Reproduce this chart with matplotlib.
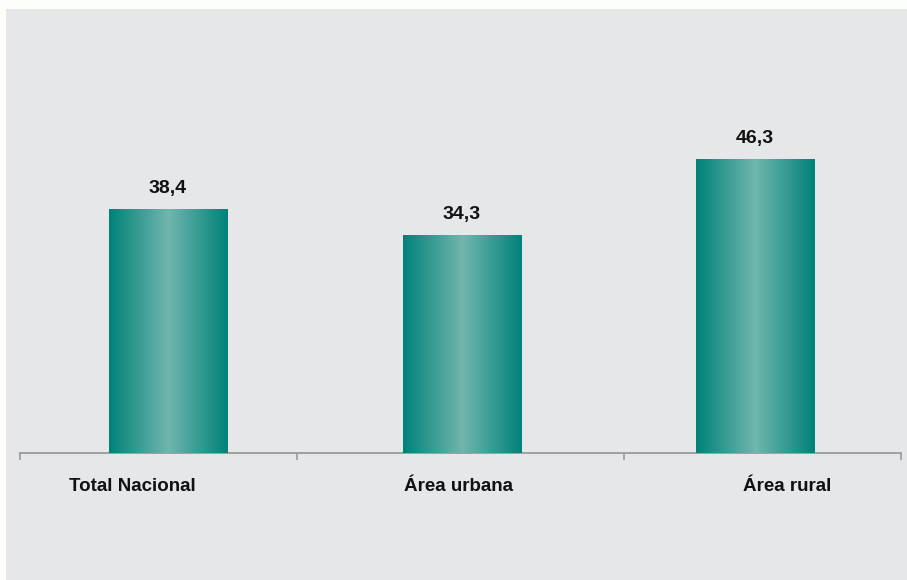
import numpy as np
import matplotlib.pyplot as plt
from matplotlib.patches import Rectangle

categories = ['Total Nacional', 'Área urbana', 'Área rural']
values = [38.4, 34.3, 46.3]
value_labels = ['38,4', '34,3', '46,3']

plt.rcParams['font.family'] = ['Liberation Sans Narrow', 'Liberation Sans', 'DejaVu Sans']

W, H = 907, 580
fig = plt.figure(figsize=(W / 100, H / 100), dpi=100)
fig.patch.set_facecolor('#fdfdfa')
fig.patches.append(Rectangle((6 / W, 0), 1, 1 - 9 / H, transform=fig.transFigure,
                             facecolor='#e6e7e9', edgecolor='none', zorder=-1))

ax = fig.add_axes([20 / W, 1 - 453 / H, (901 - 20) / W, (453 - 20) / H])
ax.set_facecolor('none')
ax.set_zorder(1)

x = np.arange(len(categories))
bars = ax.bar(x, values, width=0.402, color='#0f8a80', zorder=2)

# horizontal gradient: dark edges, light centre
t = np.linspace(-1, 1, 256)
w = 1 - np.abs(t)
dark = np.array([0, 130, 121]) / 255
light = np.array([112, 182, 174]) / 255
grad = (dark[None, :] * (1 - w[:, None]) + light[None, :] * w[:, None])[None, :, :]
for b in bars:
    x0, y0 = b.get_x(), b.get_y()
    im = ax.imshow(grad, extent=[x0, x0 + b.get_width(), y0, y0 + b.get_height()],
                   aspect='auto', zorder=3, interpolation='bilinear')
    im.set_clip_path(b)

ax.set_xlim(-0.504, 2.497)
ax.set_ylim(0, 68.1)

for xi, v, lab in zip(x, values, value_labels):
    ax.text(xi, v + 1.8, lab, ha='center', va='bottom', fontsize=14, fontweight='bold', color='#111111')

label_x = [-0.12, 0.99, 2.11]
for lx, cat in zip(label_x, categories):
    ax.text(lx, -5.2, cat, ha='center', va='center', fontsize=13.5, fontweight='bold', color='#111111')

for s in ['top', 'right', 'left']:
    ax.spines[s].set_visible(False)
ax.spines['bottom'].set_color('#9a9a9a')
ax.spines['bottom'].set_linewidth(1.3)
ax.set_yticks([])
ax.set_xticks([])
ax.set_xticks([-0.504, 0.44, 1.554, 2.497], minor=True)
ax.tick_params(axis='x', which='minor', length=5, width=1.2, color='#9a9a9a', direction='out')
ax.tick_params(axis='x', which='minor', labelbottom=False)

fig.savefig('out.png', dpi=100, facecolor=fig.get_facecolor())
